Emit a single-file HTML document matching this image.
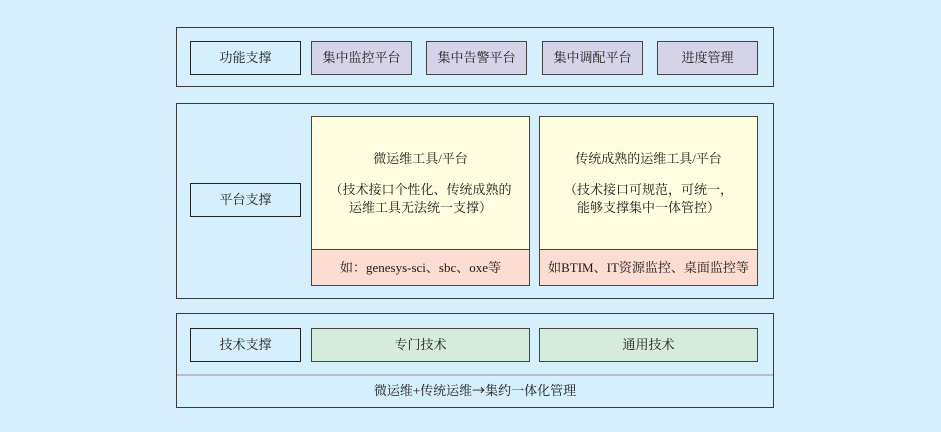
<!DOCTYPE html>
<html><head><meta charset="utf-8"><style>
body{margin:0;width:941px;height:432px;background:#d5effd;position:relative;overflow:hidden;font-family:"Liberation Serif","Noto Serif CJK SC","Noto Sans CJK SC",serif;font-size:13px;color:#1a1a1a}
.b{position:absolute;box-sizing:border-box;border:1.5px solid #333;display:flex;align-items:center;justify-content:center;text-align:center;line-height:18px}
.o{border-color:#3a3a3a;background:#d5effd}
.l{background:#d5effd;border-color:#222}
.p{background:#d5d3e8;border-color:#444}
.y{background:#fefde0;border-color:#444;flex-direction:column}
.k{background:#fddcd2;border-color:#444}
.g{background:#d5ebdc;border-color:#444}
</style></head><body>
<div class="b o" style="left:176px;top:27px;width:598px;height:60px"></div>
<div class="b l" style="left:190px;top:41px;width:111px;height:34px">功能支撑</div>
<div class="b p" style="left:311px;top:41px;width:101px;height:34px">集中监控平台</div>
<div class="b p" style="left:426px;top:41px;width:101px;height:34px">集中告警平台</div>
<div class="b p" style="left:542px;top:41px;width:101px;height:34px">集中调配平台</div>
<div class="b p" style="left:657px;top:41px;width:101px;height:34px">进度管理</div>

<div class="b o" style="left:176px;top:103px;width:598px;height:196px"></div>
<div class="b l" style="left:190px;top:183px;width:111px;height:34px">平台支撑</div>
<div class="b y" style="left:311px;top:116px;width:219px;height:170px;justify-content:flex-start;padding-top:33px">
<div>微运维工具/平台</div><div style="height:13px"></div><div>（技术接口个性化、传统成熟的</div><div>运维工具无法统一支撑）</div></div>
<div class="b k" style="left:311px;top:249px;width:219px;height:37px">如：genesys-sci、sbc、oxe等</div>
<div class="b y" style="left:539px;top:116px;width:219px;height:170px;justify-content:flex-start;padding-top:33px">
<div>传统成熟的运维工具/平台</div><div style="height:13px"></div><div>（技术接口可规范，可统一，</div><div>能够支撑集中一体管控）</div></div>
<div class="b k" style="left:539px;top:249px;width:219px;height:37px">如BTIM、IT资源监控、桌面监控等</div>

<div class="b o" style="left:176px;top:313px;width:598px;height:95px"></div>
<div class="b l" style="left:190px;top:328px;width:111px;height:34px">技术支撑</div>
<div class="b g" style="left:311px;top:328px;width:219px;height:34px">专门技术</div>
<div class="b g" style="left:539px;top:328px;width:219px;height:34px">通用技术</div>
<div style="position:absolute;left:177px;top:374px;width:596px;height:1.5px;background:#b8bcc6"></div>
<div style="position:absolute;left:177px;top:380px;width:596px;text-align:center;line-height:20px">微运维+传统运维<span style="font-family:'Noto Sans CJK SC',sans-serif">→</span>集约一体化管理</div>
</body></html>
